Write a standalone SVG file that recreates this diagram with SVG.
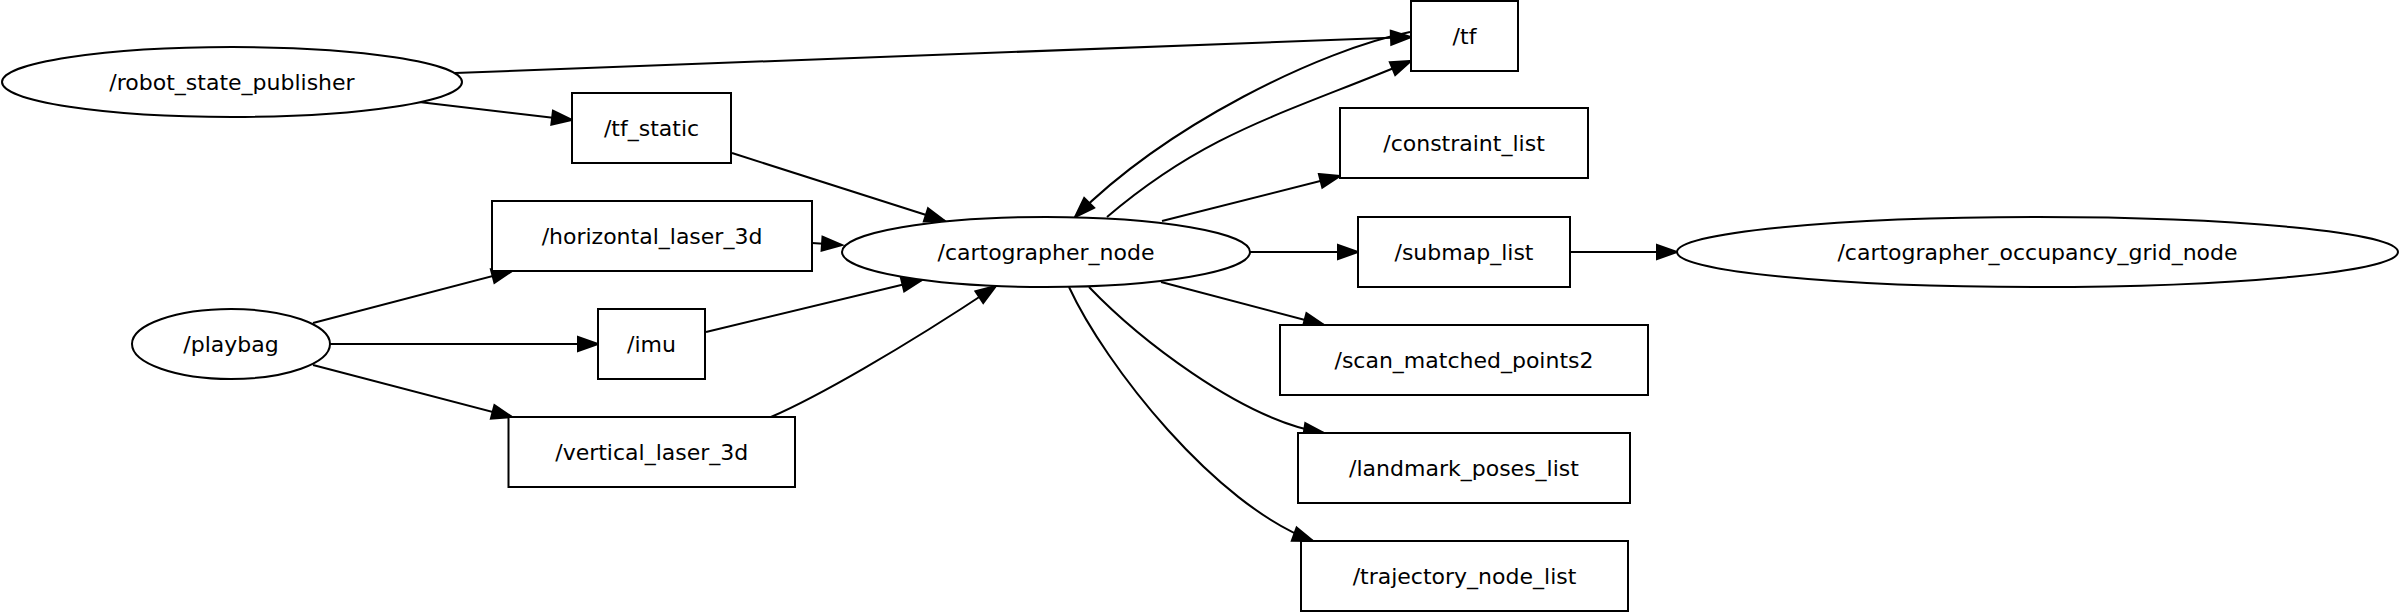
<svg xmlns="http://www.w3.org/2000/svg" width="2400" height="612" viewBox="0 0 2400 612">
<style>
.n{fill:#fff;stroke:#000;stroke-width:2}
.t{font-family:"DejaVu Sans",sans-serif;font-size:22px;fill:#000;text-anchor:middle}
.e{fill:none;stroke:#000;stroke-width:2}
</style>
<defs>
<marker id="ah" markerWidth="24" markerHeight="18" refX="20" refY="7" orient="auto" markerUnits="userSpaceOnUse" overflow="visible">
<path d="M0,0 L20,7 L0,14 Z" fill="#000" stroke="#000" stroke-width="2" stroke-linejoin="miter"/>
</marker>
</defs>
<rect x="0" y="0" width="2400" height="612" fill="#fff"/>
<g id="edges">
<path class="e" marker-end="url(#ah)" d="M455,73 L1411,37"/>
<path class="e" marker-end="url(#ah)" d="M419,102 L572,120"/>
<path class="e" marker-end="url(#ah)" d="M732,153 L945,221"/>
<path class="e" marker-end="url(#ah)" d="M1410,32 C1320,50 1167,125 1075,217"/>
<path class="e" marker-end="url(#ah)" d="M1107,217 C1207,132 1281,115 1411,61"/>
<path class="e" marker-end="url(#ah)" d="M1162,221 L1340,176"/>
<path class="e" marker-end="url(#ah)" d="M812,243 L842,245"/>
<path class="e" marker-end="url(#ah)" d="M1250,252 L1358,252"/>
<path class="e" marker-end="url(#ah)" d="M1570,252 L1677,252"/>
<path class="e" marker-end="url(#ah)" d="M313,323 L512,271"/>
<path class="e" marker-end="url(#ah)" d="M330,344 L598,344"/>
<path class="e" marker-end="url(#ah)" d="M313,365 L512,417"/>
<path class="e" marker-end="url(#ah)" d="M706,332 L922,280"/>
<path class="e" marker-end="url(#ah)" d="M771,417 C815,398 900,350 996,286"/>
<path class="e" marker-end="url(#ah)" d="M1161,282 L1324,325"/>
<path class="e" marker-end="url(#ah)" d="M1089,287 C1135,335 1240,420 1324,433"/>
<path class="e" marker-end="url(#ah)" d="M1069,287 C1105,365 1215,505 1313,541"/>
</g>
<g id="robot_state_publisher"><ellipse class="n" cx="232" cy="82" rx="230" ry="35"/><text class="t" x="232" y="90">/robot_state_publisher</text></g>
<g id="tf"><rect class="n" x="1411" y="1" width="107" height="70"/><text class="t" x="1464.5" y="44">/tf</text></g>
<g id="tf_static"><rect class="n" x="572" y="93" width="159" height="70"/><text class="t" x="651.5" y="136">/tf_static</text></g>
<g id="constraint_list"><rect class="n" x="1340" y="108" width="248" height="70"/><text class="t" x="1464" y="151">/constraint_list</text></g>
<g id="horizontal_laser_3d"><rect class="n" x="492" y="201" width="320" height="70"/><text class="t" x="652" y="244">/horizontal_laser_3d</text></g>
<g id="cartographer_node"><ellipse class="n" cx="1046" cy="252" rx="204" ry="35"/><text class="t" x="1046" y="260">/cartographer_node</text></g>
<g id="submap_list"><rect class="n" x="1358" y="217" width="212" height="70"/><text class="t" x="1464" y="260">/submap_list</text></g>
<g id="cartographer_occupancy_grid_node"><ellipse class="n" cx="2037.5" cy="252" rx="360.5" ry="35"/><text class="t" x="2037.5" y="260">/cartographer_occupancy_grid_node</text></g>
<g id="playbag"><ellipse class="n" cx="231" cy="344" rx="99" ry="35"/><text class="t" x="231" y="352">/playbag</text></g>
<g id="imu"><rect class="n" x="598" y="309" width="107" height="70"/><text class="t" x="651.5" y="352">/imu</text></g>
<g id="scan_matched_points2"><rect class="n" x="1280" y="325" width="368" height="70"/><text class="t" x="1464" y="368">/scan_matched_points2</text></g>
<g id="vertical_laser_3d"><rect class="n" x="508.5" y="417" width="286.5" height="70"/><text class="t" x="651.75" y="460">/vertical_laser_3d</text></g>
<g id="landmark_poses_list"><rect class="n" x="1298" y="433" width="332" height="70"/><text class="t" x="1464" y="476">/landmark_poses_list</text></g>
<g id="trajectory_node_list"><rect class="n" x="1301" y="541" width="327" height="70"/><text class="t" x="1464.5" y="584">/trajectory_node_list</text></g>
</svg>
